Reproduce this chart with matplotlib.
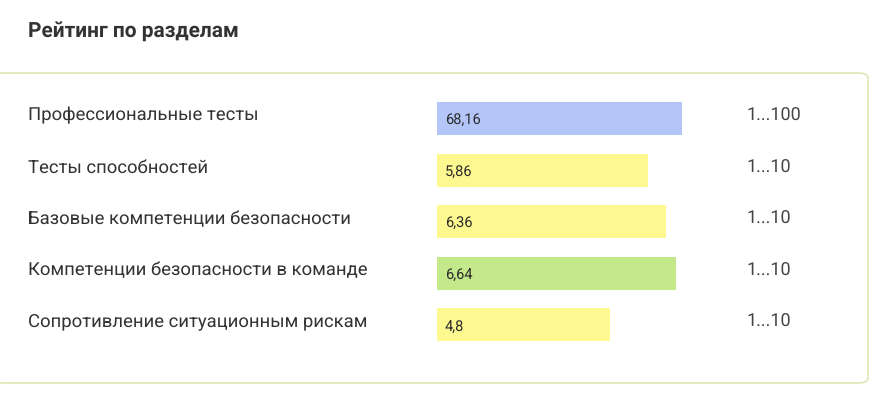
import matplotlib.pyplot as plt
import matplotlib.transforms as mtransforms
from matplotlib.patches import FancyBboxPatch

plt.rcParams['font.family'] = ['Roboto', 'DejaVu Sans']
plt.rcParams['text.hinting'] = 'no_hinting'

# data
sections = ["Профессиональные тесты", "Тесты способностей",
            "Базовые компетенции безопасности",
            "Компетенции безопасности в команде",
            "Сопротивление ситуационным рискам"]
scores = [68.16, 5.86, 6.36, 6.64, 4.8]
scale_max = [100, 10, 10, 10, 10]
scale_labels = ["1...100", "1...10", "1...10", "1...10", "1...10"]
bar_colors = ["#b4c5f8", "#fdf88f", "#fdf88f", "#c3e98b", "#fdf88f"]

W, H = 870, 400
fig = plt.figure(figsize=(W / 100, H / 100), dpi=100)

# outer rounded box
box = FancyBboxPatch((-10 / W, 1 - 383 / H), 878 / W, 310 / H,
                     boxstyle="round,pad=0,rounding_size=0.012",
                     transform=fig.transFigure, facecolor="none",
                     edgecolor="#dfeabb", linewidth=1.3, zorder=-1)
fig.patches.append(box)

fig.text(28 / W, 1 - 31 / H, "Рейтинг по разделам", fontsize=15,
         fontweight="bold", color="#333333", va="center", ha="left")

# bars axes: 360 px wide starting at x=437
step = 51.6
top = 118.5 - step / 2
ax = fig.add_axes([437 / W, 1 - (top + 5 * step) / H, 360 / W, 5 * step / H])
ax.set_xlim(0, 1)
ax.set_ylim(4.5, -0.5)
ax.axis("off")

ypos = list(range(len(sections)))
frac = [s / m for s, m in zip(scores, scale_max)]
ax.barh(ypos, frac, height=0.64, color=bar_colors, zorder=2)

trans = mtransforms.blended_transform_factory(fig.transFigure, ax.transData)
for i, (name, s, sl) in enumerate(zip(sections, scores, scale_labels)):
    ax.text(28.4 / W, i - 0.05, name, transform=trans, fontsize=13.3,
            color="#333333", va="center", ha="left", clip_on=False)
    ax.text(8 / 360, i + 0.03, f"{s:g}".replace(".", ","), fontsize=10.5,
            color="#2b2b2b", va="center", ha="left", zorder=3)
    ax.text(747 / W, i - 0.05, sl, transform=trans, fontsize=13,
            color="#444444", va="center", ha="left", clip_on=False)

fig.savefig("out.png", dpi=100, facecolor="white")
